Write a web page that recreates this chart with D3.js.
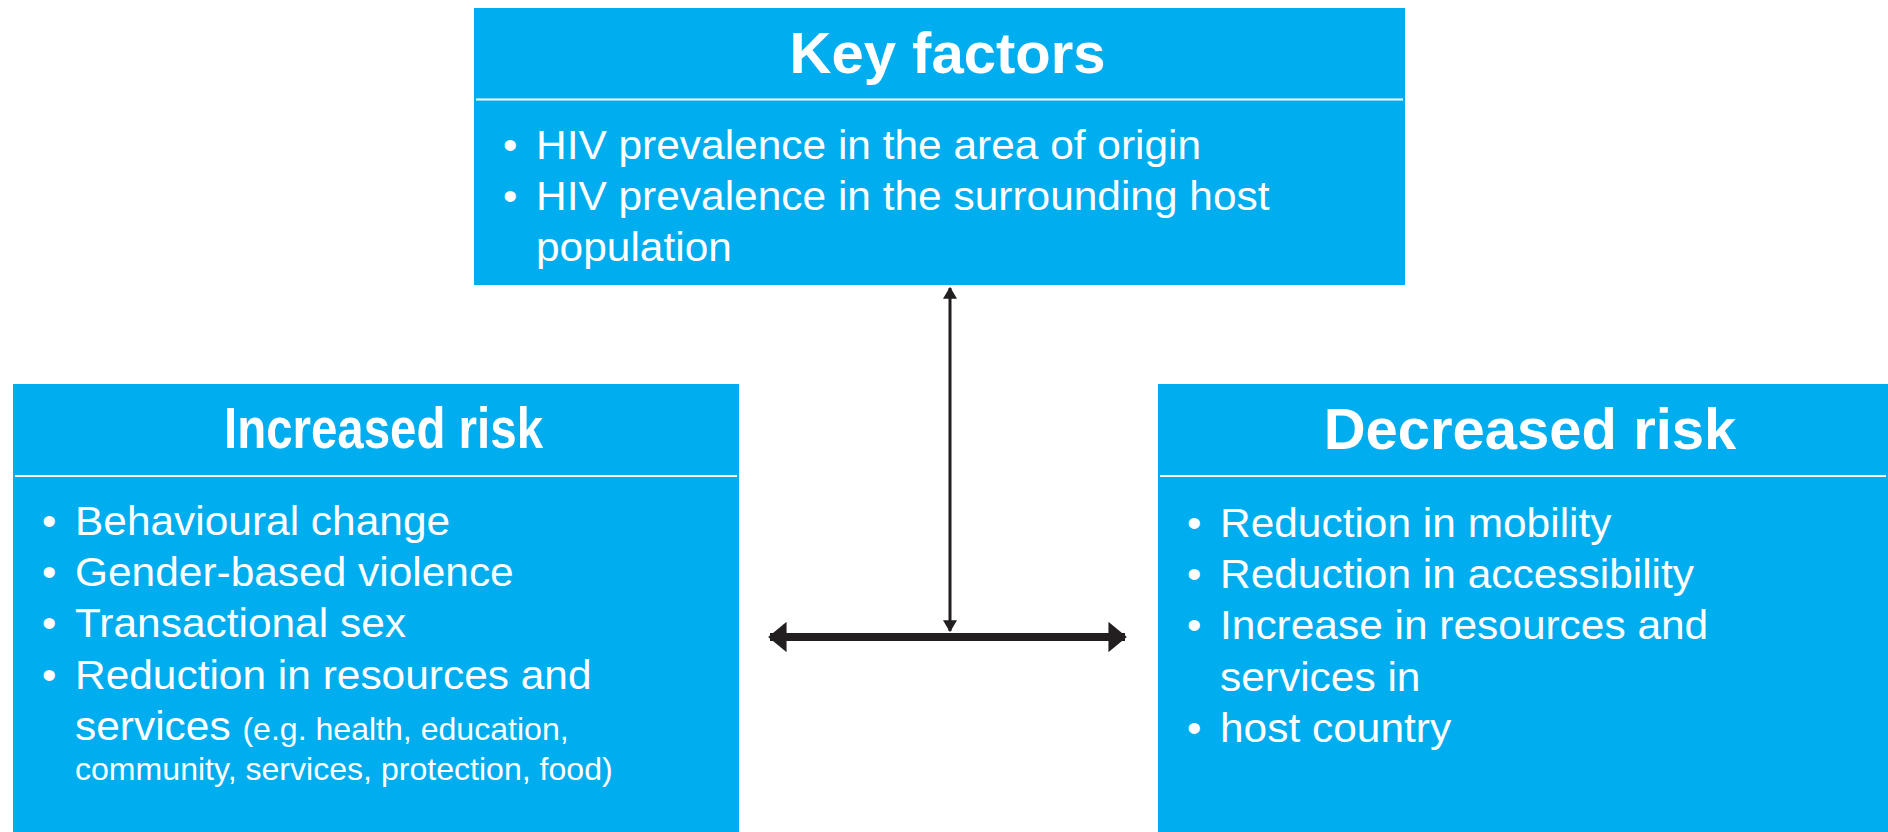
<!DOCTYPE html>
<html>
<head>
<meta charset="utf-8">
<script src="https://cdn.jsdelivr.net/npm/d3@7"></script>
<style>
  html, body { margin: 0; padding: 0; background: #fff; }
  svg { display: block; }
  text { font-family: Arial, "Liberation Sans", Helvetica, sans-serif; fill: #fff; }
</style>
</head>
<body>
<svg id="chart" width="1888" height="832"></svg>
<script>
// box titles
var boxTitles = ["Key factors", "Increased risk", "Decreased risk"];

// bullet items, each one a list of wrapped lines; a line is a list of [text, small?] runs
var keyItems = [
  [[["HIV prevalence in the area of origin", 0]]],
  [[["HIV prevalence in the surrounding host", 0]], [["population", 0]]]
];
var increasedItems = [
  [[["Behavioural change", 0]]],
  [[["Gender-based violence", 0]]],
  [[["Transactional sex", 0]]],
  [[["Reduction in resources and", 0]],
   [["services ", 0], ["(e.g. health, education,", 1]],
   [["community, services, protection, food)", 1]]]
];
var decreasedItems = [
  [[["Reduction in mobility", 0]]],
  [[["Reduction in accessibility", 0]]],
  [[["Increase in resources and", 0]], [["services in", 0]]],
  [[["host country", 0]]]
];

var svg = d3.select("#chart");
var blue = "#00aeef", ink = "#231f20";

var boxes = [
  {title: boxTitles[0], items: keyItems,       x0: 474,  x1: 1405, y0: 8,   y1: 285, rule: 99.5, base: 73,  first: 159, tdx: 8,   tsx: 1},
  {title: boxTitles[1], items: increasedItems, x0: 13,   x1: 739,  y0: 384, y1: 832, rule: 476,  base: 448, first: 535, tdx: 7.5, tsx: 0.818},
  {title: boxTitles[2], items: decreasedItems, x0: 1158, x1: 1888, y0: 384, y1: 832, rule: 476,  base: 449, first: 537, tdx: 7,   tsx: 1}
];

var lineH = 51.2, smallLineH = 40, bodySx = 1.035;

boxes.forEach(function(b) {
  var g = svg.append("g");
  g.append("rect")
    .attr("x", b.x0).attr("y", b.y0)
    .attr("width", b.x1 - b.x0).attr("height", b.y1 - b.y0)
    .attr("fill", blue);
  g.append("line")
    .attr("x1", b.x0 + 2).attr("x2", b.x1 - 2)
    .attr("y1", b.rule).attr("y2", b.rule)
    .attr("stroke", "#fff").attr("stroke-width", 2);
  g.append("text")
    .attr("transform", "translate(" + ((b.x0 + b.x1) / 2 + b.tdx) + "," + b.base + ") scale(" + b.tsx + ",1)")
    .attr("text-anchor", "middle")
    .style("font-weight", "bold").style("font-size", "58px")
    .text(b.title);

  // lay out bullets
  var y = b.first;
  b.items.forEach(function(item, i) {
    item.forEach(function(line, j) {
      var isSmall = line.length === 1 && line[0][1] === 1;
      if (i > 0 || j > 0) y += (isSmall ? smallLineH : lineH);
      if (j === 0) {
        g.append("text")
          .attr("x", b.x0 + 29).attr("y", y)
          .style("font-size", "41px")
          .text("\u2022");
      }
      var t = g.append("text")
        .attr("transform", "translate(" + (b.x0 + 62) + "," + y + ") scale(" + bodySx + ",1)");
      line.forEach(function(run) {
        t.append("tspan")
          .style("font-size", run[1] ? "31px" : "41px")
          .text(run[0]);
      });
    });
  });
});

// arrows
var defs = svg.append("defs");
defs.append("marker")
    .attr("id", "thin")
    .attr("viewBox", "0 -5 10 10")
    .attr("preserveAspectRatio", "none")
    .attr("refX", 9).attr("refY", 0)
    .attr("markerWidth", 4).attr("markerHeight", 4.7)
    .attr("orient", "auto-start-reverse")
  .append("path")
    .attr("d", "M0,-5L10,0L0,5Z").attr("fill", ink);
defs.append("marker")
    .attr("id", "thick")
    .attr("viewBox", "0 -5 10 10")
    .attr("preserveAspectRatio", "none")
    .attr("refX", 9).attr("refY", 0)
    .attr("markerWidth", 2.3).attr("markerHeight", 3.8)
    .attr("orient", "auto-start-reverse")
  .append("path")
    .attr("d", "M0,-5L10,0L0,5Z").attr("fill", ink);

svg.append("line")
  .attr("x1", 950).attr("x2", 950)
  .attr("y1", 288).attr("y2", 631)
  .attr("stroke", ink).attr("stroke-width", 3)
  .attr("marker-start", "url(#thin)").attr("marker-end", "url(#thin)");

svg.append("line")
  .attr("x1", 770).attr("x2", 1125)
  .attr("y1", 637).attr("y2", 637)
  .attr("stroke", ink).attr("stroke-width", 8)
  .attr("marker-start", "url(#thick)").attr("marker-end", "url(#thick)");
</script>
</body>
</html>
